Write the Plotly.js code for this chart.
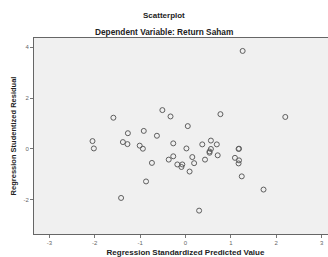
<!DOCTYPE html>
<html>
<head>
<meta charset="utf-8">
<script src="https://cdn.plot.ly/plotly-3.0.1.min.js"></script>
<style>
html, body { margin: 0; padding: 0; overflow: hidden; background: #fff; }
#chart { width: 345px; height: 257px; }
</style>
</head>
<body>
<div id="chart"></div>
<script>
// Regression Standardized Predicted Value
const predicted = [-2.05, -2.02, -1.59, -1.42, -1.38, -1.28, -1.27, -1.01, -0.94, -0.92,
  -0.87, -0.74, -0.63, -0.51, -0.37, -0.33, -0.27, -0.27, -0.18, -0.07,
  -0.09, 0.02, 0.05, 0.09, 0.15, 0.19, 0.30, 0.37, 0.43, 0.56,
  0.56, 0.53, 0.53, 0.69, 0.71, 0.77, 1.09, 1.17, 1.18, 1.18,
  1.17, 1.24, 1.26, 1.72, 2.20];
// Regression Studentized Residual
const residual = [0.31, 0.02, 1.23, -1.93, 0.27, 0.19, 0.62, 0.13, 0.01, 0.71,
  -1.28, -0.55, 0.52, 1.53, -0.42, 1.28, 0.22, -0.29, -0.61, -0.61,
  -0.71, 0.02, 0.90, -0.89, -0.32, -0.56, -2.43, 0.18, -0.42, 0.33,
  0.00, -0.10, -0.15, 0.18, -0.25, 1.37, -0.35, 0.00, 0.01, -0.45,
  -0.57, -1.08, 3.86, -1.60, 1.26];
const xTicks = [-3, -2, -1, 0, 1, 2, 3];
const yTicks = [-2, 0, 2, 4];

const font = "Liberation Sans, Arial, sans-serif";

Plotly.newPlot('chart', [{
  x: predicted,
  y: residual,
  type: 'scatter',
  mode: 'markers',
  marker: { symbol: 'circle-open', size: 5, color: '#5e5e5e', line: { width: 1, color: '#5e5e5e' } },
  hoverinfo: 'x+y'
}], {
  width: 345,
  height: 257,
  margin: { l: 34, r: 8, t: 38, b: 23 },
  paper_bgcolor: '#ffffff',
  plot_bgcolor: '#f0f0f0',
  showlegend: false,
  font: { family: font, color: '#333' },
  xaxis: {
    range: [-3.34, 3.34],
    tickvals: xTicks,
    ticktext: xTicks.map(String),
    ticks: 'outside', ticklen: 3, tickcolor: '#777', tickwidth: 1,
    tickfont: { size: 6, color: '#666', family: font },
    showgrid: false, zeroline: false,
    showline: true, mirror: true, linecolor: '#666', linewidth: 1,
    title: { text: 'Regression Standardized Predicted Value', font: { size: 8, color: '#222', family: font, weight: 'bold' }, standoff: 5 },
    automargin: false
  },
  yaxis: {
    range: [-3.35, 4.37],
    tickvals: yTicks,
    ticktext: yTicks.map(String),
    ticks: 'outside', ticklen: 3, tickcolor: '#777', tickwidth: 1,
    tickfont: { size: 6, color: '#666', family: font },
    showgrid: false, zeroline: false,
    showline: true, mirror: true, linecolor: '#666', linewidth: 1,
    title: { text: 'Regression Studentized Residual', font: { size: 7.5, color: '#222', family: font, weight: 'bold' }, standoff: 5 },
    automargin: false
  },
  annotations: [
    { text: '<b>Scatterplot</b>', xref: 'paper', yref: 'paper', x: 0.429, y: 1.115, xanchor: 'center', yanchor: 'middle', showarrow: false, font: { size: 8, color: '#222', family: font } },
    { text: '<b>Dependent Variable: Return Saham</b>', xref: 'paper', yref: 'paper', x: 0.429, y: 1.033, xanchor: 'center', yanchor: 'middle', showarrow: false, font: { size: 8.3, color: '#222', family: font } }
  ]
}, { displayModeBar: false, staticPlot: true });
</script>
</body>
</html>
